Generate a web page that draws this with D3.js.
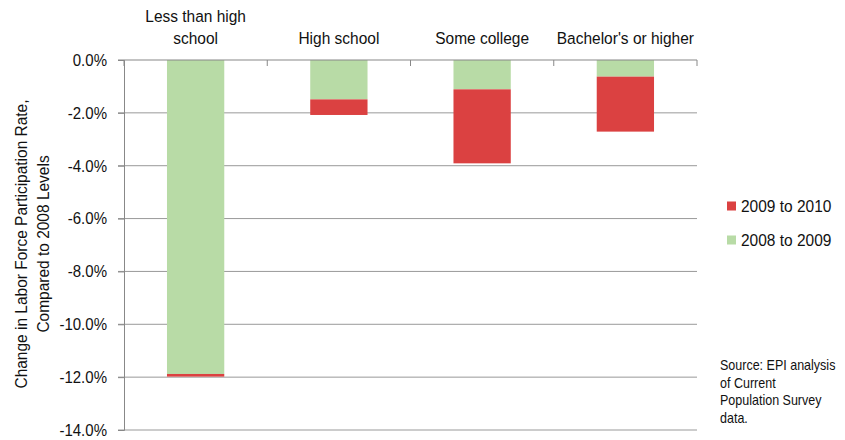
<!DOCTYPE html>
<html><head><meta charset="utf-8">
<script src="https://cdn.jsdelivr.net/npm/d3@7"></script>
<style>body{margin:0;background:#fff}svg{display:block;font-family:"Liberation Sans",Arial,sans-serif}</style>
</head><body>
<svg id="c" width="845" height="440"></svg>
<script>
const categories = [["Less than high","school"],["High school"],["Some college"],["Bachelor's or higher"]];
const categoryKeys = ["Less than high school","High school","Some college","Bachelor's or higher"];
const s2008to2009 = [-11.88, -1.49, -1.11, -0.63];
const s2009to2010 = [-0.10, -0.59, -2.80, -2.08];
const seriesNames = ["2009 to 2010","2008 to 2009"];
const yTicks = [0,-2,-4,-6,-8,-10,-12,-14];
const sourceLines = ["Source: EPI analysis","of Current","Population Survey","data."];

const colors = {"2008 to 2009":"#b8dba6","2009 to 2010":"#db4141"};
const FS = 17.2, SQ = 0.9;
const svg = d3.select("#c");
const m = {l:124, r:697, t:60, b:430};
const x = d3.scaleBand().domain(categoryKeys).range([m.l,m.r]).paddingInner(0.6).paddingOuter(0.3);
const xb = d3.scaleBand().domain(categoryKeys).range([m.l,m.r]);
const y = d3.scaleLinear().domain([-14,0]).range([m.b,m.t]);

// gridlines
svg.append("g").selectAll("line").data(yTicks.filter(d=>d!==0)).join("line")
  .attr("x1",m.l-6).attr("x2",m.r).attr("y1",d=>y(d)).attr("y2",d=>y(d))
  .attr("stroke","#999").attr("stroke-width",1);

// bars
const stackData = categoryKeys.map((k,i)=>({k, g:s2008to2009[i], r:s2009to2010[i]}));
const bars = svg.append("g");
bars.selectAll("rect.g").data(stackData).join("rect")
  .attr("x",d=>x(d.k)).attr("width",x.bandwidth())
  .attr("y",y(0)).attr("height",d=>y(d.g)-y(0)).attr("fill",colors["2008 to 2009"]);
bars.selectAll("rect.r").data(stackData).join("rect")
  .attr("x",d=>x(d.k)).attr("width",x.bandwidth())
  .attr("y",d=>y(d.g)).attr("height",d=>y(d.g+d.r)-y(d.g)).attr("fill",colors["2009 to 2010"]);

// y axis
const ya = d3.axisLeft(y).tickValues(yTicks).tickFormat(d=>d.toFixed(1)+"%").tickSize(6).tickPadding(11);
const yg = svg.append("g").attr("transform",`translate(${m.l},0)`).call(ya);
yg.select(".domain").attr("stroke","#888");
yg.selectAll(".tick line").attr("stroke","#888");
yg.selectAll(".tick text").attr("font-size",(FS-0.5)+"px").attr("fill","#111").attr("font-family","Liberation Sans, Arial, sans-serif").attr("class","sq");

// top category axis line with ticks
svg.append("line").attr("x1",m.l-6).attr("x2",m.r).attr("y1",y(0)).attr("y2",y(0)).attr("stroke","#888").attr("stroke-width",1.2);
const tickXs = categoryKeys.map(k=>xb(k)).concat([m.r]);
svg.append("g").selectAll("line").data(tickXs).join("line")
  .attr("x1",d=>d).attr("x2",d=>d).attr("y1",y(0)).attr("y2",y(0)+6).attr("stroke","#888");

// category labels
const cl = svg.append("g");
categories.forEach((lines,i)=>{
  const cx = xb(categoryKeys[i]) + xb.bandwidth()/2;
  const n = lines.length;
  lines.forEach((ln,j)=>{
    cl.append("text").attr("class","sq").attr("text-anchor","middle").attr("font-size",FS+"px").attr("fill","#111")
      .attr("x",cx).attr("y",44 - (n-1-j)*22).text(ln);
  });
});

// y title
const yt = svg.append("g").attr("transform","translate(0,244) rotate(-90)");
yt.append("text").attr("class","sq").attr("text-anchor","middle").attr("font-size",FS+"px").attr("fill","#111")
  .attr("x",0).attr("y",27).text("Change in Labor Force Participation Rate,");
yt.append("text").attr("class","sq").attr("text-anchor","middle").attr("font-size",FS+"px").attr("fill","#111")
  .attr("x",0).attr("y",49).text("Compared to 2008 Levels");

// legend
const lg = svg.append("g");
seriesNames.forEach((s,i)=>{
  const cy = 206 + i*34;
  lg.append("rect").attr("x",727).attr("y",cy-4.5).attr("width",9).attr("height",9).attr("fill",colors[s]);
  lg.append("text").attr("class","sq").attr("x",741).attr("y",cy+6).attr("font-size",FS+"px").attr("fill","#111").text(s);
});

// source
sourceLines.forEach((ln,i)=>{
  svg.append("text").attr("class","sq").attr("font-size","13.9px").attr("fill","#111")
    .attr("x",720).attr("y",370+i*17.7).text(ln);
});

// condense text horizontally (narrow look of the original font)
svg.selectAll("text.sq").each(function(){
  const t = d3.select(this);
  const tx = +t.attr("x") || 0;
  const prev = t.attr("transform") || "";
  t.attr("x",0).attr("transform", `${prev} translate(${tx},0) scale(${SQ},1)`);
});
</script>
</body></html>
